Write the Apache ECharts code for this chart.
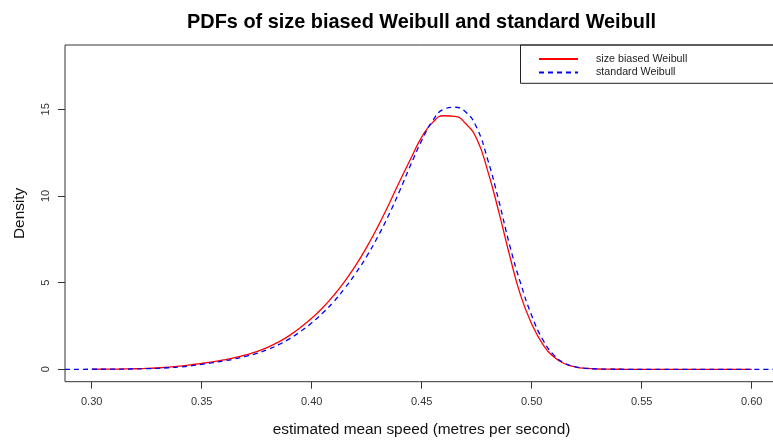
<!DOCTYPE html>
<html>
<head>
<meta charset="utf-8">
<script src="https://cdn.jsdelivr.net/npm/echarts@6/dist/echarts.min.js"></script>
<style>
  html, body { margin: 0; padding: 0; background: #fff; }
  #chart { width: 773px; height: 440px; }
</style>
</head>
<body>
<div id="chart"></div>
<script>
// ── Data ─────────────────────────────────────────────────────────────────────
// x grid, 0.30 .. 0.60 in steps of 0.005
const X_GRID = [0.300, 0.305, 0.310, 0.315, 0.320, 0.325, 0.330, 0.335, 0.340, 0.345,
  0.350, 0.355, 0.360, 0.365, 0.370, 0.375, 0.380, 0.385, 0.390, 0.395,
  0.400, 0.405, 0.410, 0.415, 0.420, 0.425, 0.430, 0.435, 0.440, 0.445,
  0.450, 0.455, 0.460, 0.465, 0.470, 0.475, 0.480, 0.485, 0.490, 0.495,
  0.500, 0.505, 0.510, 0.515, 0.520, 0.525, 0.530, 0.535, 0.540, 0.545,
  0.550, 0.555, 0.560, 0.565, 0.570, 0.575, 0.580, 0.585, 0.590, 0.595, 0.600];

// size biased Weibull density
const SB_Y = [0.003, 0.006, 0.012, 0.02, 0.033, 0.05, 0.08, 0.12, 0.18, 0.26,
  0.34, 0.43, 0.54, 0.67, 0.83, 1.02, 1.27, 1.58, 1.96, 2.42,
  2.95, 3.55, 4.26, 5.08, 6.0, 7.05, 8.22, 9.5, 10.85, 12.15,
  13.4, 14.25, 14.63, 14.6, 14.18, 13.3, 11.45, 9.1, 6.55, 4.25,
  2.62, 1.45, 0.72, 0.32, 0.13, 0.05, 0.018, 0.006, 0.002, 0,
  0, 0, 0, 0, 0, 0, 0, 0, 0, 0, 0];

// standard Weibull density (drawn across the whole plot width)
const SW_Y = [0.002, 0.004, 0.008, 0.014, 0.023, 0.037, 0.058, 0.09, 0.135, 0.2,
  0.29, 0.38, 0.48, 0.6, 0.75, 0.92, 1.14, 1.42, 1.77, 2.19,
  2.68, 3.25, 3.9, 4.67, 5.54, 6.52, 7.64, 8.9, 10.3, 11.8,
  13.2, 14.35, 15.0, 15.12, 14.85, 13.95, 12.1, 9.75, 7.15, 4.95,
  3.1, 1.72, 0.83, 0.35, 0.14, 0.055, 0.02, 0.007, 0.002, 0,
  0, 0, 0, 0, 0, 0, 0, 0, 0, 0, 0];
const SW_LEFT = [0.2879, 0];
const SW_RIGHT = [0.615, 0];

const X_TICKS = [0.30, 0.35, 0.40, 0.45, 0.50, 0.55, 0.60];
const Y_TICKS = [0, 5, 10, 15];
const SERIES_NAMES = ['size biased Weibull', 'standard Weibull'];

const pairs = (xs, ys) => xs.map((x, i) => [x, ys[i]]);

// ── Chart ────────────────────────────────────────────────────────────────────
const FONT = 'Liberation Sans, Arial, sans-serif';
const chart = echarts.init(document.getElementById('chart'), null, { renderer: 'canvas' });

chart.setOption({
  animation: false,
  backgroundColor: '#fff',
  title: {
    text: 'PDFs of size biased Weibull and standard Weibull',
    left: 416.5, top: 8, textAlign: 'center',
    textStyle: { fontFamily: FONT, fontSize: 19.9, fontWeight: 'bold', color: '#000' }
  },
  grid: {
    left: 65, top: 45, bottom: 58.3, right: -5,
    outerBoundsMode: 'none',
    show: true, borderColor: '#333', borderWidth: 1, backgroundColor: 'transparent'
  },
  xAxis: {
    type: 'value',
    min: 0.28786, max: 0.61195,
    name: 'estimated mean speed (metres per second)',
    nameLocation: 'middle', nameGap: 41,
    nameTextStyle: { fontFamily: FONT, fontSize: 15.4, color: '#111' },
    axisLine: { show: false, onZero: false },
    splitLine: { show: false },
    axisTick: { show: true, length: 7, customValues: X_TICKS, lineStyle: { color: '#333' } },
    axisLabel: {
      customValues: X_TICKS, margin: 14.5,
      formatter: v => v.toFixed(2),
      fontFamily: FONT, fontSize: 11, color: '#333'
    }
  },
  yAxis: {
    type: 'value',
    min: -0.7155, max: 18.713,
    name: 'Density',
    nameLocation: 'middle', nameGap: 38,
    nameTextStyle: { fontFamily: FONT, fontSize: 15.4, color: '#111' },
    axisLine: { show: false, onZero: false },
    splitLine: { show: false },
    axisTick: { show: true, length: 7, customValues: Y_TICKS, lineStyle: { color: '#333' } },
    axisLabel: {
      customValues: Y_TICKS, rotate: 90, margin: 14,
      fontFamily: FONT, fontSize: 11, color: '#333'
    }
  },
  legend: {
    orient: 'vertical',
    left: 538, top: 53,
    itemWidth: 39, itemHeight: 12, itemGap: 1.4,
    padding: 0,
    data: SERIES_NAMES,
    itemStyle: { opacity: 0 },
    textStyle: { fontFamily: FONT, fontSize: 10.7, color: '#222', padding: [0, 0, 0, 13], lineHeight: 12 }
  },
  graphic: [{
    type: 'rect',
    shape: { x: 520.5, y: 45, width: 270, height: 38.3 },
    style: { fill: 'transparent', stroke: '#222', lineWidth: 1 },
    z: 10
  }],
  series: [
    {
      name: SERIES_NAMES[0],
      type: 'line',
      data: pairs(X_GRID, SB_Y),
      smooth: 0.5,
      symbol: 'none',
      lineStyle: { color: '#ff0000', width: 1.3 },
      itemStyle: { color: '#ff0000' },
      z: 3
    },
    {
      name: SERIES_NAMES[1],
      type: 'line',
      data: [SW_LEFT].concat(pairs(X_GRID, SW_Y), [SW_RIGHT]),
      smooth: 0.5,
      symbol: 'none',
      lineStyle: { color: '#0000ff', width: 1.3, type: [5, 4] },
      itemStyle: { color: '#0000ff' },
      z: 4
    }
  ]
});
</script>
</body>
</html>
